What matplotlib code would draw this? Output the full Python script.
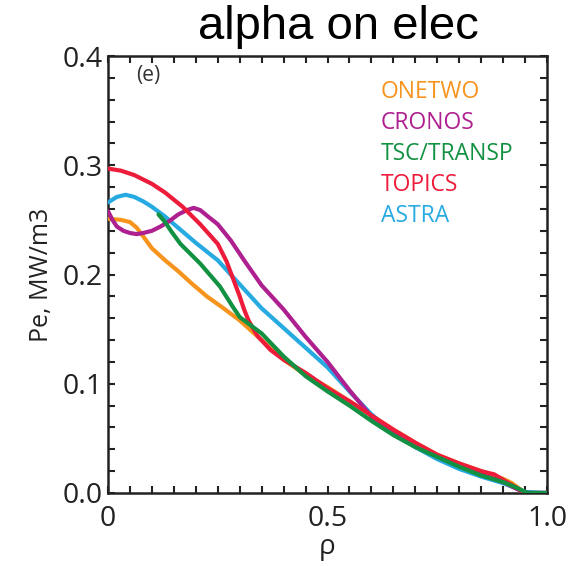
import numpy as np
import matplotlib.pyplot as plt
from matplotlib.ticker import MultipleLocator, FixedLocator

# profiles of alpha heating power to electrons, per code
rho_onetwo = [0.0, 0.03, 0.05, 0.065, 0.08, 0.10, 0.13, 0.16, 0.19, 0.225, 0.26, 0.30, 0.35, 0.40, 0.45,
              0.50, 0.55, 0.60, 0.65, 0.70, 0.75, 0.80, 0.85, 0.90, 0.92, 0.94, 0.95, 1.0]
pe_onetwo = [0.251, 0.250, 0.248, 0.243, 0.235, 0.224, 0.213, 0.203, 0.192, 0.180, 0.170, 0.158, 0.140, 0.122, 0.108,
             0.097, 0.084, 0.071, 0.058, 0.046, 0.035, 0.027, 0.020, 0.013, 0.009, 0.003, 0.0, 0.0]

rho_cronos = [0.0, 0.01, 0.02, 0.035, 0.05, 0.065, 0.08, 0.10, 0.12, 0.14, 0.16, 0.18, 0.195, 0.21,
              0.225, 0.25, 0.28, 0.31, 0.35, 0.40, 0.45, 0.50, 0.55, 0.60, 0.65, 0.70,
              0.75, 0.80, 0.85, 0.90, 0.93, 0.95, 1.0]
pe_cronos = [0.258, 0.250, 0.244, 0.240, 0.238, 0.237, 0.238, 0.240, 0.244, 0.249, 0.255, 0.259, 0.261, 0.259,
             0.254, 0.246, 0.231, 0.213, 0.190, 0.168, 0.143, 0.120, 0.094, 0.070, 0.054, 0.043,
             0.034, 0.025, 0.017, 0.010, 0.004, 0.0, 0.0]

rho_astra = [0.0, 0.02, 0.04, 0.06, 0.08, 0.10, 0.13, 0.165, 0.20, 0.25, 0.30, 0.35, 0.40, 0.45, 0.50,
             0.55, 0.60, 0.65, 0.70, 0.75, 0.80, 0.85, 0.90, 0.95, 1.0]
pe_astra = [0.266, 0.271, 0.273, 0.271, 0.267, 0.262, 0.253, 0.241, 0.229, 0.213, 0.191, 0.169, 0.151, 0.133, 0.115,
            0.093, 0.072, 0.055, 0.042, 0.031, 0.022, 0.015, 0.009, 0.001, 0.0]

rho_topics = [0.0, 0.03, 0.06, 0.10, 0.13, 0.17, 0.21, 0.25, 0.27, 0.285, 0.30, 0.31,
              0.32, 0.34, 0.37, 0.40, 0.45, 0.50, 0.55, 0.60, 0.65, 0.70, 0.75, 0.80, 0.85,
              0.88, 0.90, 0.93, 0.95, 1.0]
pe_topics = [0.297, 0.295, 0.291, 0.283, 0.275, 0.262, 0.246, 0.228, 0.212, 0.196, 0.180, 0.168,
             0.158, 0.144, 0.131, 0.122, 0.110, 0.096, 0.084, 0.071, 0.058, 0.046, 0.035, 0.027, 0.020,
             0.017, 0.012, 0.005, 0.0, 0.0]

rho_tsc = [0.115, 0.13, 0.145, 0.165, 0.185, 0.21, 0.255, 0.285, 0.30, 0.35, 0.40, 0.45, 0.50, 0.55, 0.60, 0.65,
           0.70, 0.75, 0.80, 0.85, 0.90, 0.93, 0.955, 1.0]
pe_tsc = [0.255, 0.248, 0.239, 0.228, 0.220, 0.210, 0.189, 0.170, 0.161, 0.146, 0.125, 0.107, 0.093, 0.080, 0.066, 0.053,
          0.042, 0.033, 0.024, 0.016, 0.010, 0.005, 0.0, 0.0]

# drawing order (last on top)
series = [
    ("ONETWO", rho_onetwo, pe_onetwo, "#F7941D"),
    ("ASTRA", rho_astra, pe_astra, "#27AAE1"),
    ("CRONOS", rho_cronos, pe_cronos, "#AE1F90"),
    ("TOPICS", rho_topics, pe_topics, "#ED1C3A"),
    ("TSC/TRANSP", rho_tsc, pe_tsc, "#139142"),
]
legend_order = ["ONETWO", "CRONOS", "TSC/TRANSP", "TOPICS", "ASTRA"]
x_ticks = [0, 0.5, 1.0]
x_labels = ["0", "0.5", "1.0"]
y_ticks = [0.0, 0.1, 0.2, 0.3, 0.4]
y_labels = ["0.0", "0.1", "0.2", "0.3", "0.4"]

fig = plt.figure(figsize=(5.88, 5.66), dpi=100)
ax = fig.add_axes([0.1837, 0.129, 0.7466, 0.772])

for name, x, y, c in series:
    ax.plot(x, y, color=c, lw=3, solid_capstyle="round", solid_joinstyle="round", zorder=3)

ax.set_xlim(0, 1.0)
ax.set_ylim(0, 0.4)

ax.xaxis.set_major_locator(FixedLocator(x_ticks))
ax.xaxis.set_minor_locator(MultipleLocator(0.05))
ax.yaxis.set_major_locator(FixedLocator(y_ticks))
ax.yaxis.set_minor_locator(MultipleLocator(0.02))
ax.set_xticklabels(x_labels)
ax.set_yticklabels(y_labels)
ax.tick_params(which="both", direction="in", top=True, right=True,
               length=5, width=1.5, color="#222222")
ax.tick_params(which="major", labelsize=20.5, labelcolor="#222222")
ax.tick_params(axis="x", which="major", pad=9)
ax.tick_params(axis="y", which="major", pad=4)
for lab in ax.get_xticklabels() + ax.get_yticklabels():
    lab.set_family("Open Sans")
for s in ax.spines.values():
    s.set_linewidth(1.8)
    s.set_color("#222222")

ax.set_xlabel("ρ", fontsize=20, family="Open Sans", color="#222222", labelpad=0)
ax.set_ylabel("Pe, MW/m3", fontsize=18, family="Open Sans", color="#222222", labelpad=6)

ax.text(0.065, 0.955, "(e)", transform=ax.transAxes, fontsize=15,
        family="Open Sans", color="#333333", va="center", ha="left")

colors = {name: c for name, _, _, c in series}
for i, name in enumerate(legend_order):
    ax.text(0.622, 0.917 - i * 0.071, name, transform=ax.transAxes, fontsize=16.5,
            family="Open Sans", color=colors[name], va="center", ha="left")

fig.text(0.575, 0.952, "alpha on elec", fontsize=34, family="Liberation Sans",
         ha="center", va="center", color="black")

fig.savefig("out.png", dpi=100)
